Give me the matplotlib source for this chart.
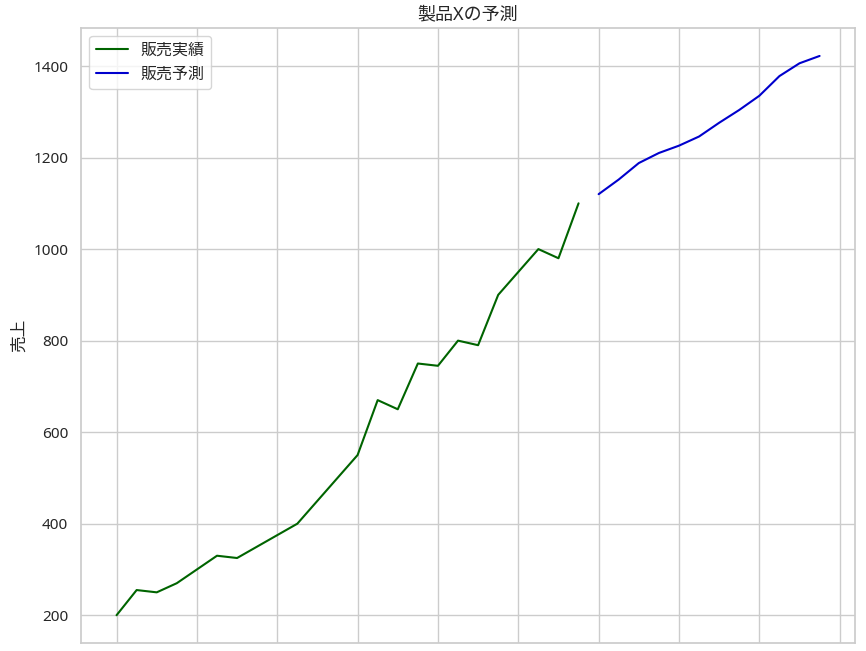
import numpy as np
import matplotlib
matplotlib.use('Agg')
import matplotlib.pyplot as plt
import seaborn as sns

# 実績 (24ヶ月) と 予測 (12ヶ月)
actual_sales = [200, 255, 250, 270, 300, 330, 325, 350, 375, 400, 450, 500,
                550, 670, 650, 750, 745, 800, 790, 900, 950, 1000, 980, 1100]
forecast_sales = [1120, 1152, 1188, 1210, 1226, 1246, 1276, 1304, 1335,
                  1378, 1406, 1422]

sns.set_theme(style='whitegrid')
plt.rcParams['font.family'] = ['Noto Sans', 'Noto Sans CJK JP', 'DejaVu Sans']

actual_x = np.arange(len(actual_sales))
forecast_x = np.arange(len(actual_sales), len(actual_sales) + len(forecast_sales))

fig, ax = plt.subplots(figsize=(8.66, 6.51), dpi=100)
fig.subplots_adjust(left=0.094, right=0.987, top=0.957, bottom=0.012)

ax.plot(actual_x, actual_sales, color='darkgreen', label='販売実績')
ax.plot(forecast_x, forecast_sales, color='mediumblue', label='販売予測')

ax.set_xticks(np.arange(0, 37, 4))
ax.set_xticklabels([])
ax.set_title('製品Xの予測', fontsize=13)
ax.set_ylabel('売上')
ax.legend(loc='upper left', fontsize=11.5)

plt.savefig('out.png')
